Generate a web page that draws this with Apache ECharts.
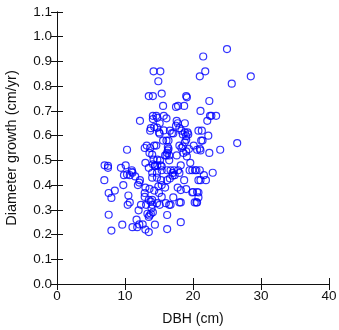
<!DOCTYPE html>
<html><head><meta charset="utf-8">
<script src="https://cdn.jsdelivr.net/npm/echarts@6/dist/echarts.min.js"></script>
<style>html,body{margin:0;padding:0;background:#fff}#c{width:339px;height:330px}</style>
</head><body><div id="c"></div>
<script>
const xTicks = [0, 10, 20, 30, 40];
const yTicks = [0, 0.1, 0.2, 0.3, 0.4, 0.5, 0.6, 0.7, 0.8, 0.9, 1.0, 1.1];
const dbh = [
25.0,21.5,21.8,21.0,28.5,25.7,
14.2,15.2,14.9,15.4,13.5,14.1,
19.0,19.1,22.4,
15.6,17.5,17.8,18.7,
21.1,
12.2,14.1,14.6,15.7,16.1,14.1,14.75,
22.5,22.7,23.4,22.1,
15.1,17.6,17.75,18.8,
13.8,14.3,14.7,13.7,15.0,15.1,15.7,
16.6,16.9,17.1,17.5,18.0,18.3,
18.5,18.8,19.2,19.0,19.3,
20.8,21.3,22.25,
19.0,18.8,18.5,
15.6,16.1,16.4,21.2,21.4,
13.2,14.3,14.6,12.9,13.7,
10.3,
18.0,20.1,16.4,26.5,24.0,21.0,20.6,
16.3,16.3,16.2,15.9,16.1,16.5,16.5,
18.3,18.6,19.0,19.4,19.1,17.6,
22.4,21.1,
13.6,14.0,14.2,14.75,15.15,
13.0,19.6,
7.0,7.5,7.5,9.4,10.1,11.0,11.0,11.1,
9.85,10.3,10.7,11.5,6.96,12.2,12.1,
11.9,9.75,7.6,8.5,8.0,10.5,10.7,10.4,
7.6,8.0,9.6,
13.5,14.1,14.4,14.0,14.0,
14.4,14.75,15.25,15.4,15.4,
14.7,14.7,15.3,15.4,14.9,15.9,
16.2,16.7,17.0,17.2,17.8,18.0,18.2,
16.2,16.6,17.0,17.3,
19.5,19.9,20.3,20.5,21.0,22.9,21.6,
18.7,21.1,21.9,20.8,
18.2,19.0,17.75,20.0,19.9,20.6,20.8,20.8,
18.2,18.0,20.25,20.5,20.6,
18.2,
13.0,13.6,14.3,15.0,15.4,12.9,12.9,
13.5,14.0,13.8,14.0,13.9,13.8,13.6,13.5,14.1,
12.35,13.1,14.7,15.1,16.0,16.5,16.7,17.1,
12.0,13.3,11.7,12.1,12.6,11.1,11.8,13.0,13.5,
14.4,16.2,16.2
];
const growth = [
0.95,0.92,0.86,0.84,0.84,0.81,
0.86,0.86,0.82,0.77,0.76,0.76,
0.76,0.755,0.74,
0.72,0.716,0.72,0.72,
0.70,
0.66,0.68,0.68,0.68,0.67,0.667,0.672,
0.68,0.68,0.68,0.66,
0.65,0.66,0.65,0.65,
0.63,0.635,0.632,0.62,0.613,0.608,0.621,
0.62,0.61,0.609,0.64,0.63,0.62,
0.605,0.613,0.613,0.598,0.605,
0.62,0.62,0.60,
0.583,0.573,0.556,
0.58,0.58,0.58,0.58,0.58,
0.56,0.56,0.56,0.55,0.55,
0.543,
0.56,0.56,0.547,0.57,0.543,0.547,0.543,
0.554,0.54,0.53,0.52,0.52,0.52,0.50,
0.55,0.53,0.536,0.546,0.516,0.52,
0.53,0.54,
0.53,0.523,0.503,0.503,0.50,
0.49,0.49,
0.48,0.478,0.47,0.47,0.48,0.46,0.454,0.45,
0.44,0.443,0.44,0.435,0.42,0.42,0.41,
0.40,0.40,0.368,0.378,0.348,0.358,0.33,0.32,
0.28,0.216,0.24,
0.47,0.484,0.476,0.45,0.43,
0.48,0.48,0.48,0.476,0.46,
0.45,0.43,0.42,0.40,0.395,0.39,
0.46,0.46,0.449,0.46,0.46,0.449,0.48,
0.42,0.427,0.438,0.44,
0.46,0.46,0.46,0.46,0.46,0.45,0.44,
0.42,0.42,0.42,0.42,
0.38,0.384,0.39,0.372,0.37,0.372,0.37,0.35,
0.33,0.33,0.33,0.33,0.33,
0.25,
0.39,0.385,0.378,0.368,0.352,0.368,0.352,
0.34,0.34,0.333,0.32,0.306,0.284,0.277,0.271,0.29,
0.32,0.32,0.327,0.32,0.327,0.32,0.32,0.35,
0.298,0.284,0.26,0.241,0.241,0.23,0.23,0.22,0.21,
0.24,0.279,0.222
];
const points = dbh.map((x, i) => [x, growth[i]]);
const font = 'Liberation Sans, Arial, sans-serif';
const lineStyle = {color: '#111', width: 1};
const chart = echarts.init(document.getElementById('c'));
chart.setOption({
  animation: false,
  grid: {left: 57, right: 10, top: 12, bottom: 46, containLabel: false, outerBoundsMode: 'none'},
  xAxis: [
    {type: 'value', min: xTicks[0], max: xTicks[xTicks.length-1], interval: 10,
     name: 'DBH (cm)', nameLocation: 'middle', nameGap: 28,
     nameTextStyle: {fontFamily: font, fontSize: 14, color: '#111'},
     axisLine: {show: true, lineStyle}, axisTick: {show: true, inside: true, length: 6, lineStyle},
     axisLabel: {fontFamily: font, fontSize: 13.5, color: '#111', margin: 5},
     splitLine: {show: false}},
    {type: 'value', position: 'top', min: xTicks[0], max: xTicks[xTicks.length-1], interval: 10,
     axisLine: {show: true, lineStyle}, axisTick: {show: true, inside: true, length: 6, lineStyle},
     axisLabel: {show: false}, splitLine: {show: false}}
  ],
  yAxis: [
    {type: 'value', min: yTicks[0], max: yTicks[yTicks.length-1], interval: 0.1,
     name: 'Diameter growth (cm/yr)', nameLocation: 'middle', nameGap: 38,
     nameTextStyle: {fontFamily: font, fontSize: 14.5, color: '#111'},
     axisLine: {show: true, lineStyle}, axisTick: {show: true, inside: true, length: 6, lineStyle},
     axisLabel: {fontFamily: font, fontSize: 13.5, color: '#111', margin: 5, formatter: v => v.toFixed(1)},
     splitLine: {show: false}},
    {type: 'value', position: 'right', min: yTicks[0], max: yTicks[yTicks.length-1], interval: 0.1,
     axisLine: {show: true, lineStyle}, axisTick: {show: true, inside: true, length: 6, lineStyle},
     axisLabel: {show: false}, splitLine: {show: false}}
  ],
  series: [{
    type: 'scatter', xAxisIndex: 0, yAxisIndex: 0, data: points,
    symbol: 'circle', symbolSize: 7,
    itemStyle: {color: 'rgba(0,0,0,0)', borderColor: '#0000ff', borderWidth: 1.2}
  }]
});
</script></body></html>
